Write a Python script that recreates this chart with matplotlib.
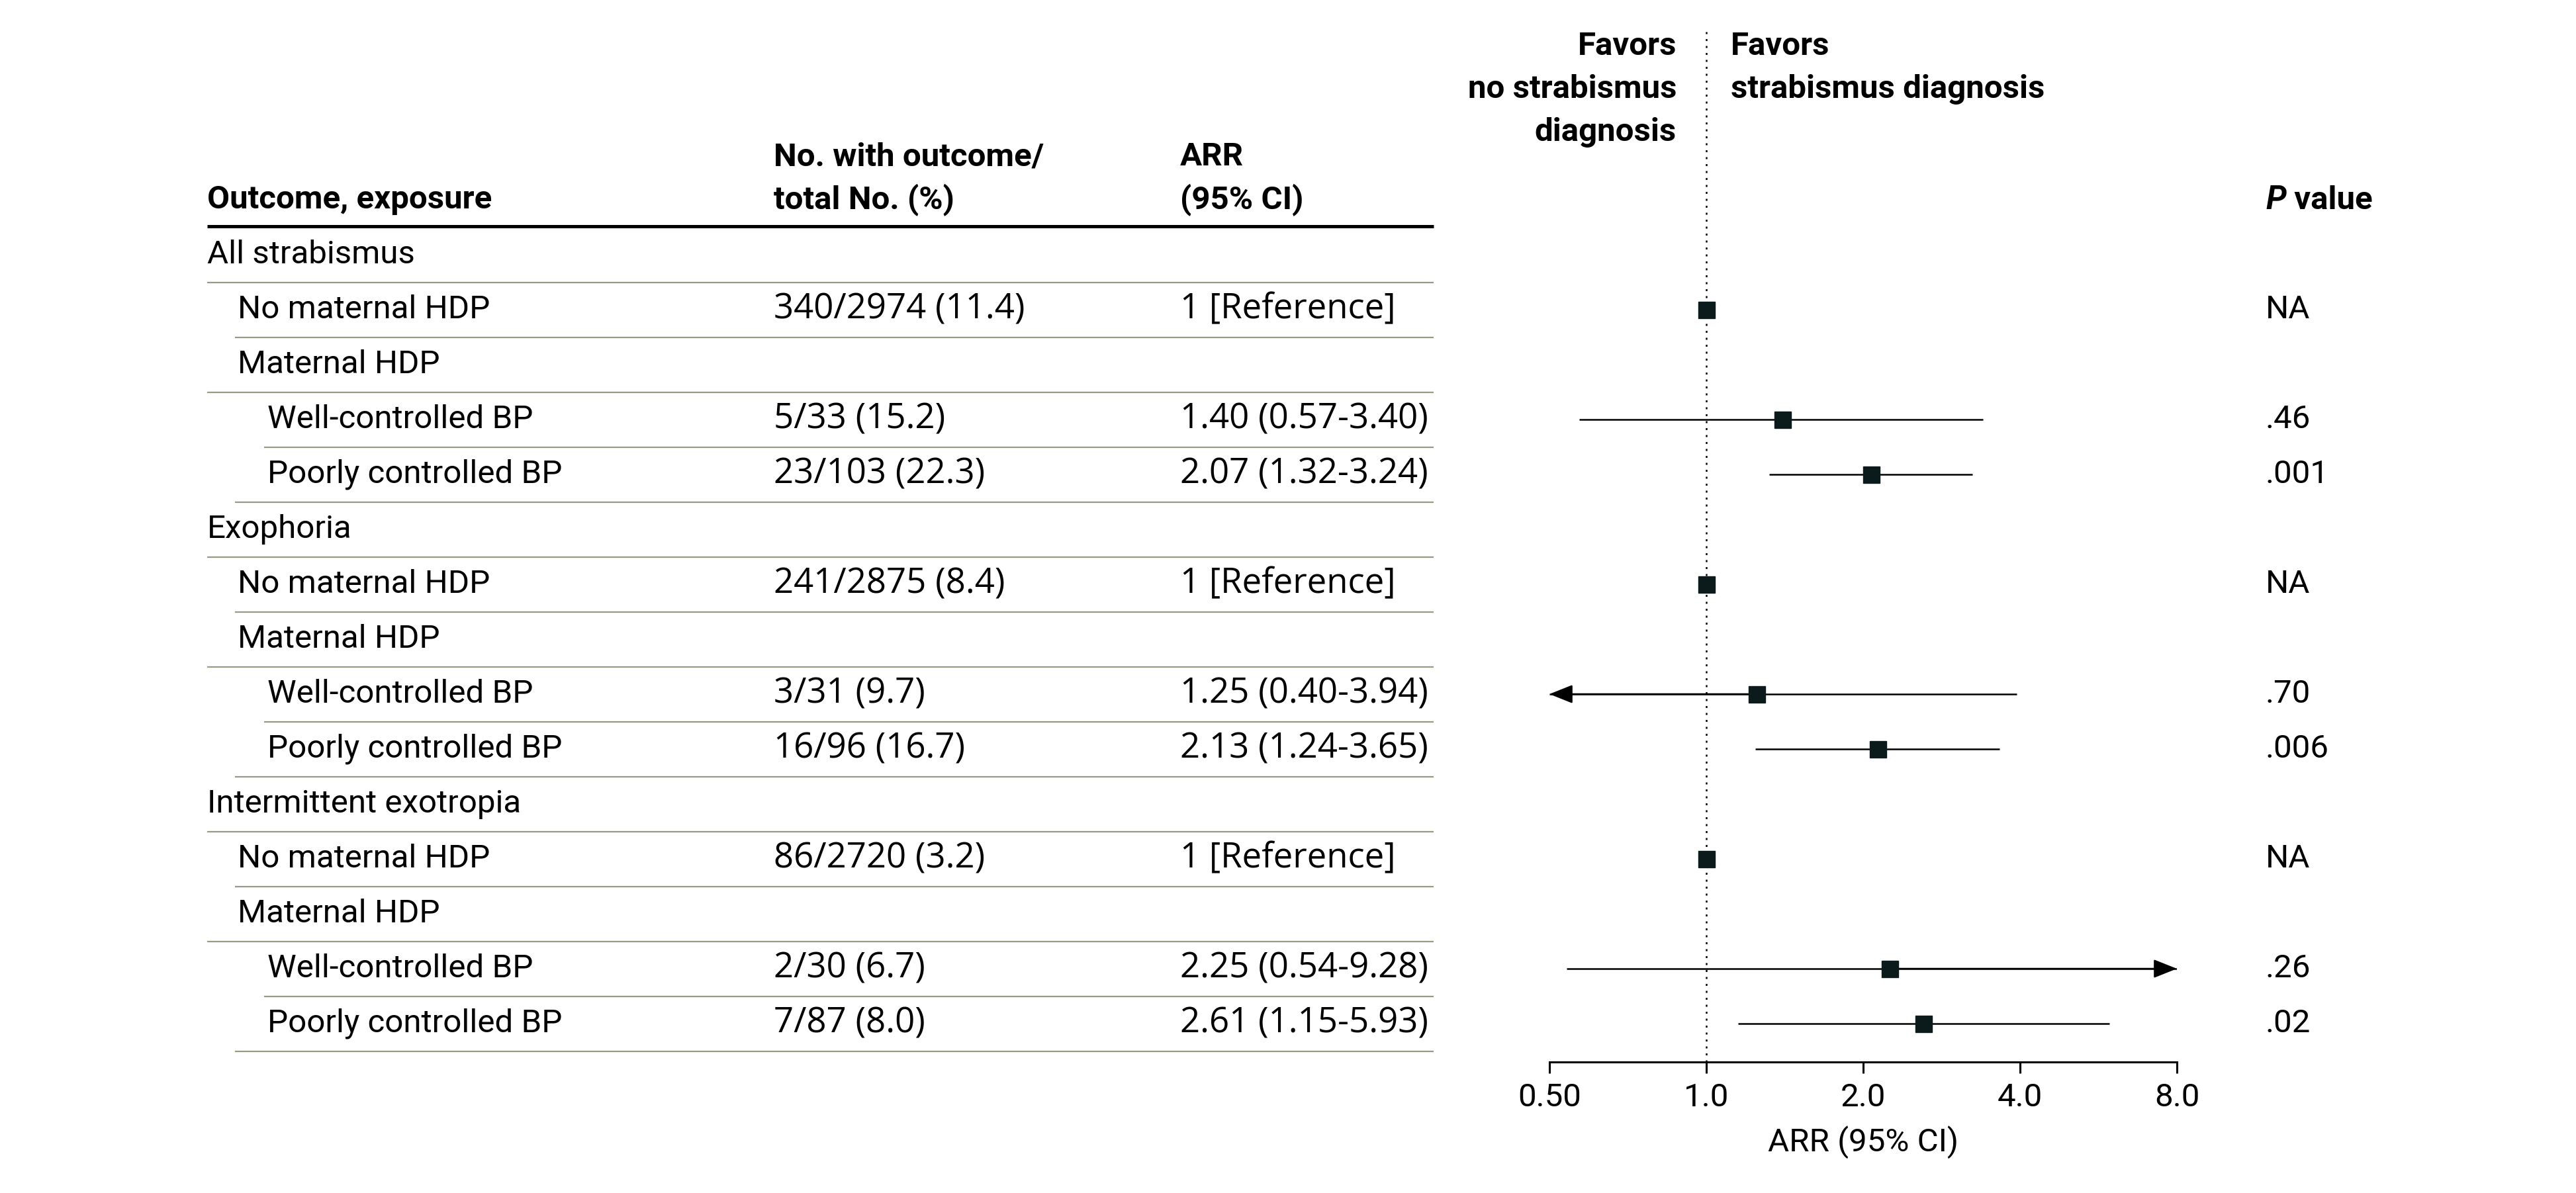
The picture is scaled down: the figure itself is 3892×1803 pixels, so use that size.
import numpy as np
import matplotlib
matplotlib.use("Agg")
import matplotlib.pyplot as plt

plt.rcParams['font.family'] = ['Roboto', 'DejaVu Sans']

# ---- data ----
labels = ["All strabismus", "No maternal HDP", "Maternal HDP", "Well-controlled BP", "Poorly controlled BP",
          "Exophoria", "No maternal HDP", "Maternal HDP", "Well-controlled BP", "Poorly controlled BP",
          "Intermittent exotropia", "No maternal HDP", "Maternal HDP", "Well-controlled BP", "Poorly controlled BP"]
levels = [0, 1, 1, 2, 2] * 3
counts = ["", "340/2974 (11.4)", "", "5/33 (15.2)", "23/103 (22.3)",
          "", "241/2875 (8.4)", "", "3/31 (9.7)", "16/96 (16.7)",
          "", "86/2720 (3.2)", "", "2/30 (6.7)", "7/87 (8.0)"]
arr_text = ["", "1 [Reference]", "", "1.40 (0.57-3.40)", "2.07 (1.32-3.24)",
            "", "1 [Reference]", "", "1.25 (0.40-3.94)", "2.13 (1.24-3.65)",
            "", "1 [Reference]", "", "2.25 (0.54-9.28)", "2.61 (1.15-5.93)"]
p_values = ["", "NA", "", ".46", ".001",
            "", "NA", "", ".70", ".006",
            "", "NA", "", ".26", ".02"]
nan = np.nan
arr = [nan, 1, nan, 1.40, 2.07, nan, 1, nan, 1.25, 2.13, nan, 1, nan, 2.25, 2.61]
lo = [nan, nan, nan, 0.57, 1.32, nan, nan, nan, 0.40, 1.24, nan, nan, nan, 0.54, 1.15]
hi = [nan, nan, nan, 3.40, 3.24, nan, nan, nan, 3.94, 3.65, nan, nan, nan, 9.28, 5.93]
xticks = [0.5, 1, 2, 4, 8]
xticklabels = ["0.50", "1.0", "2.0", "4.0", "8.0"]

# ---- layout (pixels) ----
W, H = 3892, 1803
FS = 35.5
FS_NUM = 38
num_font = ['Open Sans', 'DejaVu Sans']
row0, row_h = 385, 83
indent_x = [313, 359, 404]
rule_x = [313, 355, 313, 399, 355] * 3
col_n, col_arr, col_p = 1169, 1783, 3423
tab_right = 2166
ax_left, ax_right, ax_top, ax_bot = 2341, 3289, 47, 1605
line_color = '#949c86'
mark_color = '#0b1a1a'

fig = plt.figure(figsize=(W / 100, H / 100), dpi=100)
tab = fig.add_axes([0, 0, 1, 1])
tab.set_xlim(0, W)
tab.set_ylim(H, 0)
tab.axis('off')

# header
hdr = dict(fontsize=FS, fontweight='bold', va='center', ha='left')
tab.text(indent_x[0], 302, "Outcome, exposure", **hdr)
tab.text(col_n, 237, "No. with outcome/", **hdr)
tab.text(col_n, 302, "total No. (%)", **hdr)
tab.text(col_arr, 237, "ARR", **hdr)
tab.text(col_arr, 302, "(95% CI)", **hdr)
tp = tab.text(col_p, 302, "P", fontstyle='italic', **hdr)
tab.annotate(" value", xy=(1, 0), xycoords=tp, va='bottom', ha='left',
             fontsize=FS, fontweight='bold')
tab.plot([indent_x[0], tab_right], [342, 342], color='black', lw=3.6, solid_capstyle='butt')

# favors labels
fx = ax_left + (ax_right - ax_left) * np.log2(1 / 0.5) / np.log2(8 / 0.5)
for k, s in enumerate(["Favors", "no strabismus", "diagnosis"]):
    tab.text(fx - 45, 70 + 65 * k, s, fontsize=FS, fontweight='bold', ha='right', va='center')
for k, s in enumerate(["Favors", "strabismus diagnosis"]):
    tab.text(fx + 37, 70 + 65 * k, s, fontsize=FS, fontweight='bold', ha='left', va='center')

# rows
for i, lab in enumerate(labels):
    y = row0 + row_h * i
    tab.text(indent_x[levels[i]], y, lab, fontsize=FS, va='center', ha='left')
    tab.text(col_n, y, counts[i], fontsize=FS_NUM, family=num_font, va='center', ha='left')
    tab.text(col_arr, y, arr_text[i], fontsize=FS_NUM, family=num_font, va='center', ha='left')
    tab.text(col_p, y, p_values[i], fontsize=FS, va='center', ha='left')
    tab.plot([rule_x[i], tab_right], [y + row_h / 2] * 2, color=line_color, lw=1.6,
             solid_capstyle='butt')

# ---- forest plot ----
ax = fig.add_axes([ax_left / W, 1 - ax_bot / H, (ax_right - ax_left) / W, (ax_bot - ax_top) / H])
ax.set_xscale('log', base=2)
ax.set_xlim(0.5, 8)
ax.set_ylim((ax_bot - row0) / row_h, (ax_top - row0) / row_h)
ax.patch.set_alpha(0)
for s in ['left', 'top', 'right']:
    ax.spines[s].set_visible(False)
ax.spines['bottom'].set_linewidth(2.2)
ax.set_yticks([])
ax.set_xticks(xticks)
ax.set_xticklabels(xticklabels)
ax.minorticks_off()
ax.tick_params(axis='x', length=12, width=2.2, labelsize=FS, pad=10)
ax.set_xlabel("ARR (95% CI)", fontsize=FS, labelpad=14)

ax.axvline(1, color='black', lw=1.8, dashes=(1.2, 3))

xmin, xmax = ax.get_xlim()
for i in range(len(labels)):
    if np.isnan(arr[i]):
        continue
    if not np.isnan(lo[i]):
        a, b = max(lo[i], xmin), min(hi[i], xmax)
        ax.plot([a, b], [i, i], color='black', lw=1.8, solid_capstyle='butt', zorder=2)
        astyle = '-|>,head_length=0.75,head_width=0.3'
        if lo[i] < xmin:
            ax.annotate('', xy=(xmin, i), xytext=(arr[i], i),
                        arrowprops=dict(arrowstyle=astyle, color='black', lw=1.8,
                                        mutation_scale=29, shrinkA=0, shrinkB=0),
                        annotation_clip=False)
        if hi[i] > xmax:
            ax.annotate('', xy=(xmax, i), xytext=(arr[i], i),
                        arrowprops=dict(arrowstyle=astyle, color='black', lw=1.8,
                                        mutation_scale=29, shrinkA=0, shrinkB=0),
                        annotation_clip=False)
    ax.plot(arr[i], i, marker='s', markersize=18, color=mark_color, zorder=3, clip_on=False)

fig.savefig("out.png", dpi=100)
